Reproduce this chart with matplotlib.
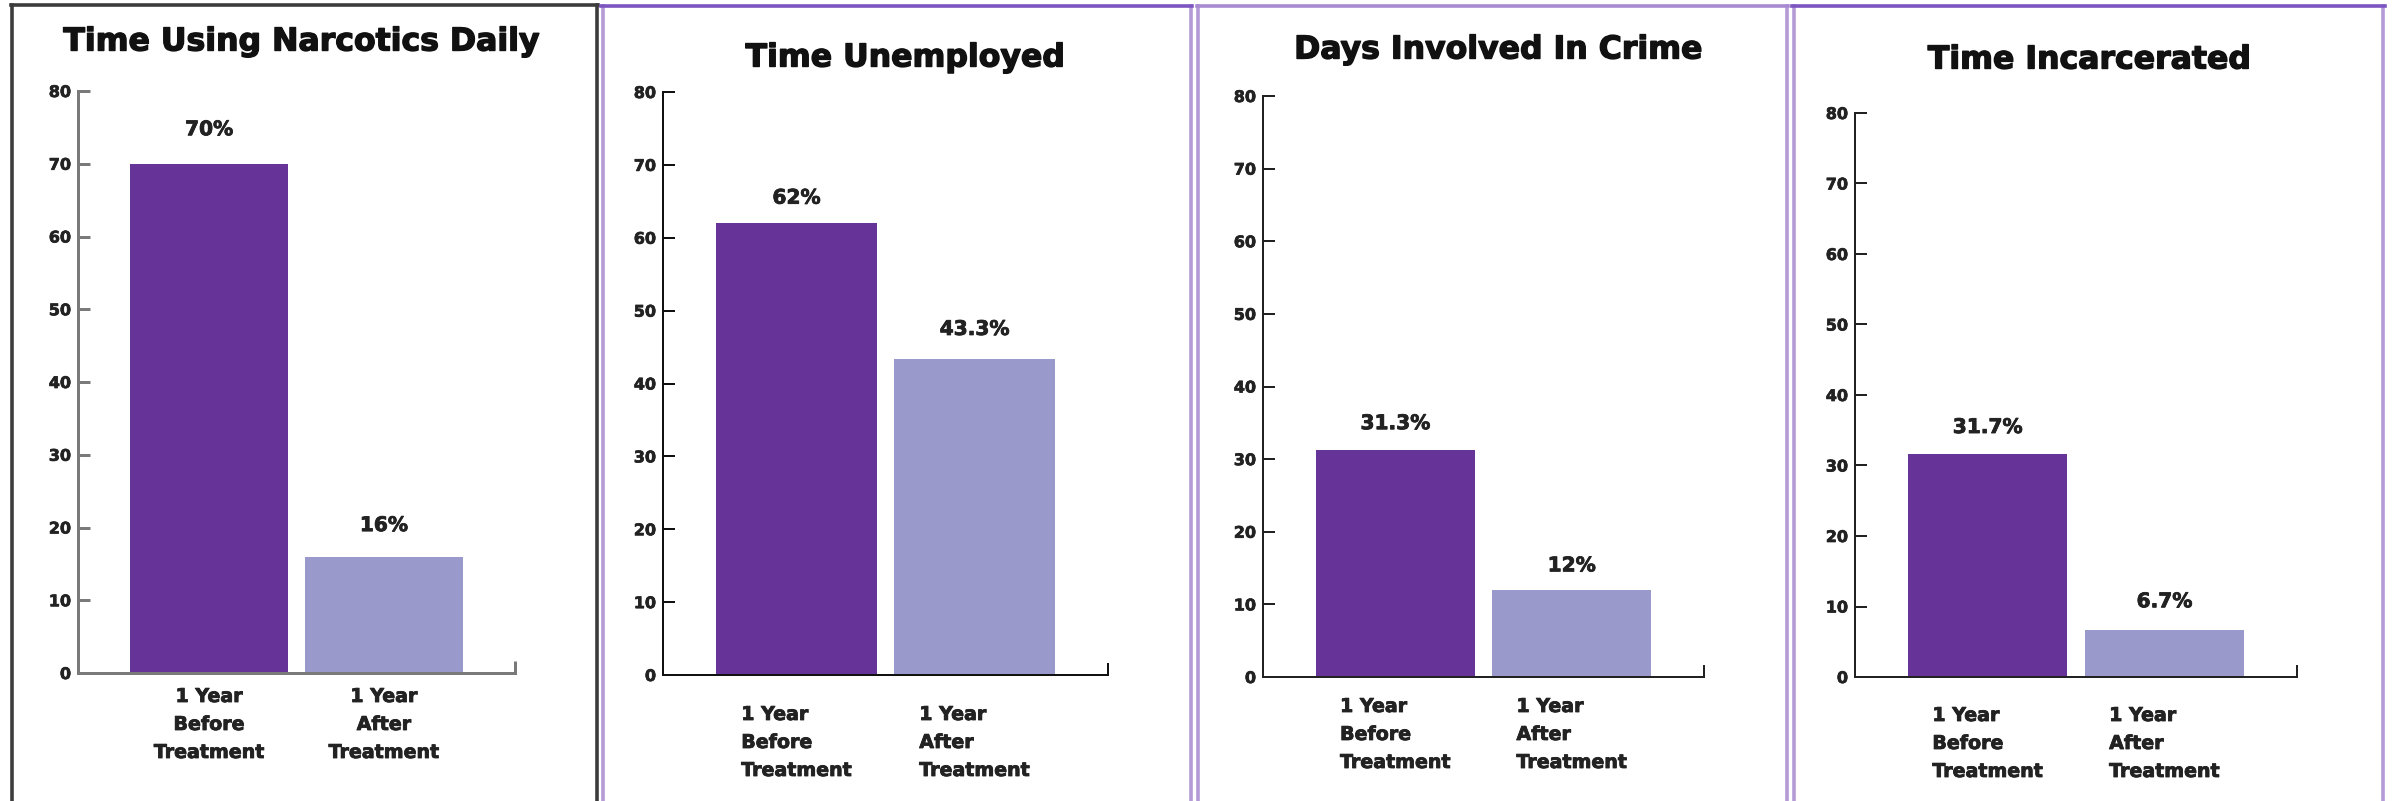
import matplotlib
matplotlib.use("Agg")
import matplotlib.pyplot as plt
from matplotlib.lines import Line2D
import matplotlib.patheffects as pe

# ---- data ----
titles = ["Time Using Narcotics Daily", "Time Unemployed",
          "Days Involved In Crime", "Time Incarcerated"]
categories = ["1 Year\nBefore\nTreatment", "1 Year\nAfter\nTreatment"]
before_treatment = [70, 62, 31.3, 31.7]
after_treatment = [16, 43.3, 12, 6.7]
y_ticks = [0, 10, 20, 30, 40, 50, 60, 70, 80]

# ---- styling / layout (pixels on a 2392x801 canvas) ----
W, H, DPI = 2392, 801, 100
DARK = "#663399"
LIGHT = "#9999cc"

# plot area of each panel: left, right, top (y=80), bottom (y=0)
boxes = [(78, 515, 91, 673), (663, 1108, 92, 675),
         (1263, 1704, 96, 677), (1855, 2297, 113, 677)]
title_pos = [(301, 42), (905, 58), (1498, 50), (2089, 60)]
xlabel_pad_px = [14, 30, 20, 29]
xlabel_align = ["center", "left", "left", "left"]
value_offset_px = [(34, 31), (25, 30), (26, 24), (26, 28)]
axis_style = [("#7a7a7a", 3.0), ("#111111", 2.0), ("#222222", 2.0), ("#222222", 2.0)]

# panel frames: left, right, top, side colour, top colour
frames = [(12, 596.5, 5, "#3c3c3c", "#3c3c3c"),
          (602.5, 1190.5, 6, "#b49bd6", "#7d55c0"),
          (1198, 1786.5, 6, "#b49bd6", "#a88ad2"),
          (1793.5, 2383, 6, "#b49bd6", "#7d55c0")]

plt.rcParams["font.family"] = ["DejaVu Sans"]
plt.rcParams["font.weight"] = "bold"

fig = plt.figure(figsize=(W / DPI, H / DPI), dpi=DPI)
fig.patch.set_facecolor("white")


def fx(x):
    return x / W


def fy(y):
    return 1 - y / H


def heavy(width, color):
    return [pe.withStroke(linewidth=width, foreground=color)]


# panel frames (open at the bottom edge)
for left, right, top, side_c, top_c in frames:
    lw = 3.6 * 72 / DPI
    fig.add_artist(Line2D([fx(left), fx(left)], [fy(top), fy(H + 10)],
                          transform=fig.transFigure, color=side_c, lw=lw))
    fig.add_artist(Line2D([fx(right), fx(right)], [fy(top), fy(H + 10)],
                          transform=fig.transFigure, color=side_c, lw=lw))
    fig.add_artist(Line2D([fx(left - 1.5), fx(right + 1.5)], [fy(top), fy(top)],
                          transform=fig.transFigure, color=top_c, lw=lw))

for i in range(4):
    l, r, t, b = boxes[i]
    ax = fig.add_axes([fx(l), fy(b), (r - l) / W, (b - t) / H])
    ax.set_facecolor("none")
    vals = [before_treatment[i], after_treatment[i]]
    xs = [0, 1]
    ax.bar(xs, vals, width=0.9, color=[DARK, LIGHT], linewidth=0, zorder=1)
    ax.set_xlim(-0.75, 1.75)
    ax.set_ylim(0, 80)

    acol, aw = axis_style[i]
    for s in ("top", "right"):
        ax.spines[s].set_visible(False)
    for s in ("left", "bottom"):
        ax.spines[s].set_color(acol)
        ax.spines[s].set_linewidth(aw * 72 / DPI)
        ax.spines[s].set_capstyle("projecting")

    ax.set_yticks(y_ticks)
    ax.tick_params(axis="y", direction="in", length=8.5, width=aw * 72 / DPI,
                   color=acol, pad=5, labelsize=11.5, labelcolor="#222222")
    for lab in ax.get_yticklabels():
        lab.set_path_effects(heavy(0.5, "#222222"))

    ax.set_xticks(xs, labels=categories)
    ax.tick_params(axis="x", which="major", length=0,
                   pad=xlabel_pad_px[i] * 72 / DPI, labelsize=13.7,
                   labelcolor="#222222")
    for lab in ax.get_xticklabels():
        lab.set_multialignment(xlabel_align[i])
        lab.set_linespacing(1.6)
        lab.set_fontweight("bold")
        lab.set_path_effects(heavy(0.6, "#222222"))
    # small upright tick closing the category axis
    ax.set_xticks([1.75], minor=True)
    ax.tick_params(axis="x", which="minor", direction="in", length=9,
                   width=aw * 72 / DPI, color=acol)

    for x, v, off in zip(xs, vals, value_offset_px[i]):
        ax.annotate(f"{v:g}%", xy=(x, v), xytext=(0, off * 72 / DPI),
                    textcoords="offset points", ha="center", va="center",
                    fontsize=14.5, fontweight="bold", color="#222222",
                    path_effects=heavy(0.6, "#222222"))

    tx, ty = title_pos[i]
    fig.text(fx(tx), fy(ty), titles[i], ha="center", va="center",
             fontsize=22.7, fontweight="bold", color="#111111",
             path_effects=heavy(1.0, "#111111"))

fig.savefig("out.png", dpi=DPI, facecolor="white")
